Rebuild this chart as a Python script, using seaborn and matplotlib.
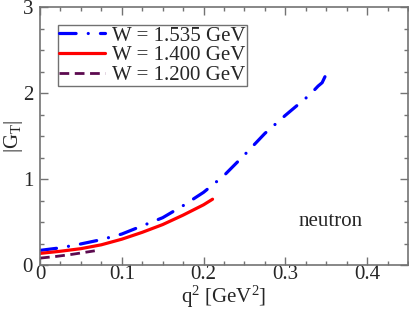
import numpy as np
import pandas as pd
import matplotlib
matplotlib.use("Agg")
import matplotlib.pyplot as plt
import seaborn as sns
from matplotlib.ticker import MultipleLocator, FuncFormatter

# curve values
q2_1535 = [0.0, 0.025, 0.05, 0.075, 0.10, 0.125, 0.15, 0.175, 0.20, 0.225,
           0.25, 0.275, 0.30, 0.32, 0.33, 0.34, 0.345, 0.351]
gt_1535 = [0.17, 0.20, 0.245, 0.295, 0.36, 0.455, 0.55, 0.69, 0.845, 1.04,
           1.28, 1.53, 1.74, 1.90, 1.98, 2.08, 2.12, 2.24]

q2_1400 = [0.0, 0.025, 0.05, 0.075, 0.10, 0.125, 0.15, 0.175, 0.20, 0.211]
gt_1400 = [0.135, 0.16, 0.19, 0.235, 0.30, 0.38, 0.47, 0.58, 0.70, 0.765]

q2_1200 = [0.0, 0.02, 0.04, 0.067]
gt_1200 = [0.08, 0.10, 0.125, 0.165]

labels = ["W = 1.535 GeV", "W = 1.400 GeV", "W = 1.200 GeV"]
colors = ["#0000ff", "#ff0000", "#5c0a4f"]

sns.set_style("ticks")
plt.rcParams['font.family'] = ['Liberation Serif', 'DejaVu Serif']
plt.rcParams['mathtext.fontset'] = 'custom'
plt.rcParams['mathtext.rm'] = 'Liberation Serif'
plt.rcParams['mathtext.it'] = 'Liberation Serif:italic'

FS = 15

fig = plt.figure(figsize=(4.09, 3.14), dpi=100)
ax = fig.add_axes([40 / 409, 1 - 265 / 314, 368 / 409, 258 / 314])

sns.lineplot(x=q2_1535, y=gt_1535, ax=ax, color=colors[0], lw=2.3,
             label=labels[0], sort=False, estimator=None)
sns.lineplot(x=q2_1400, y=gt_1400, ax=ax, color=colors[1], lw=2.3,
             label=labels[1], sort=False, estimator=None)
sns.lineplot(x=q2_1200, y=gt_1200, ax=ax, color=colors[2], lw=2.0,
             label=labels[2], sort=False, estimator=None)

lines = ax.get_lines()
lines[0].set_dashes([5.2, 3.8, 0.01, 3.8])
lines[0].set_dash_capstyle('round')
lines[2].set_dashes([3.5, 2])

ax.set_xlim(0, 0.45)
ax.set_ylim(0, 3)
ax.xaxis.set_major_locator(MultipleLocator(0.1))
ax.xaxis.set_minor_locator(MultipleLocator(0.025))
ax.yaxis.set_major_locator(MultipleLocator(1))
ax.yaxis.set_minor_locator(MultipleLocator(0.25))
ax.xaxis.set_major_formatter(FuncFormatter(lambda v, p: "0" if abs(v) < 1e-9 else f"{v:.1f}"))
ax.tick_params(which='both', direction='in', top=True, right=True,
               color='0.45', labelsize=FS)
ax.tick_params(axis='x', pad=0)
ax.tick_params(axis='y', pad=5)
ax.tick_params(which='major', length=6, width=1)
ax.tick_params(which='minor', length=3, width=1)
for s in ax.spines.values():
    s.set_color('0.45')
    s.set_linewidth(1.2)

ax.set_xlabel("q$^2$ [GeV$^2$]", fontsize=FS, labelpad=0)
ax.set_ylabel("|G$_\\mathrm{T}$|", fontsize=FS)
ax.yaxis.set_label_coords(-0.04, 0.5)

ax.text(0.316, 0.5, "neutron", fontsize=FS, ha='left', va='center')

leg = ax.legend(loc='upper left', bbox_to_anchor=(0.049, 0.93), fontsize=FS,
                frameon=True, fancybox=False, handlelength=2.2,
                handletextpad=0.35, borderpad=0.05, labelspacing=0.0,
                borderaxespad=0)
leg.get_frame().set_edgecolor('0.3')
leg.get_frame().set_linewidth(1.0)

fig.savefig("out.png", dpi=100)
